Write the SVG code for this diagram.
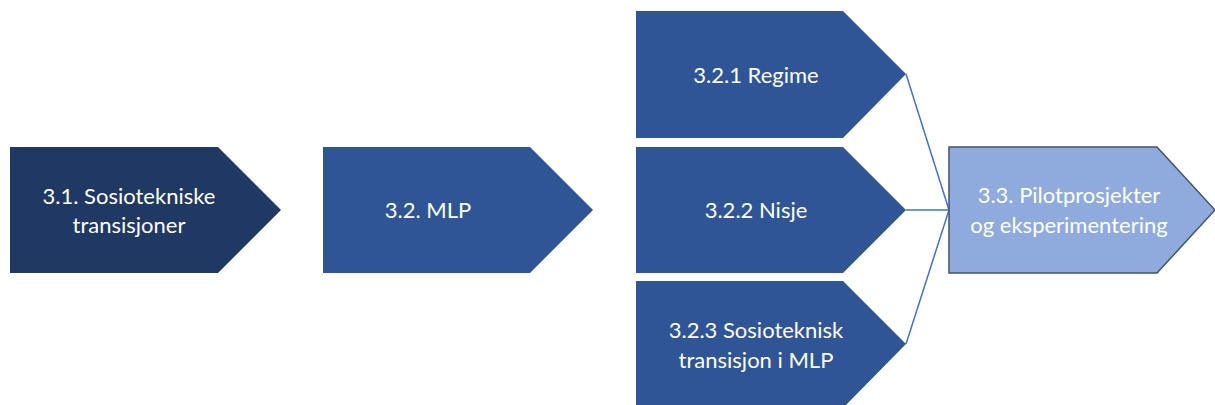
<svg xmlns="http://www.w3.org/2000/svg" width="1215" height="405" viewBox="0 0 1215 405">
<style>
.t{font-family:Lato,"Liberation Sans",sans-serif;font-size:22px;fill:#ffffff;text-anchor:middle}
.dk{fill:#203864}
.md{fill:#2F5597}
.lt{fill:#8FAADC;stroke:#44546A;stroke-width:1.5}
.c{stroke:#4472C4;stroke-width:1.5;fill:none}
</style>
<rect width="1215" height="405" fill="#ffffff"/>
<g id="connectors">
<line class="c" x1="906" y1="74" x2="949" y2="210"/>
<line class="c" x1="906" y1="210" x2="949" y2="210"/>
<line class="c" x1="906" y1="344" x2="949" y2="210"/>
</g>
<g id="n31">
<polygon class="dk" points="10,147 218,147 281,210 218,273 10,273"/>
<text class="t" x="129" y="204">3.1. Sosiotekniske</text>
<text class="t" x="129" y="233">transisjoner</text>
</g>
<g id="n32">
<polygon class="md" points="323,147 530,147 593,210 530,273 323,273"/>
<text class="t" x="428" y="218">3.2. MLP</text>
</g>
<g id="n321">
<polygon class="md" points="636,11 843,11 906,74 843,138 636,138"/>
<text class="t" x="756" y="83">3.2.1 Regime</text>
</g>
<g id="n322">
<polygon class="md" points="636,147 843,147 906,210 843,273 636,273"/>
<text class="t" x="756" y="218">3.2.2 Nisje</text>
</g>
<g id="n323">
<polygon class="md" points="636,281 843,281 906,344 843,408 636,408"/>
<text class="t" x="756" y="338">3.2.3 Sosioteknisk</text>
<text class="t" x="756" y="368">transisjon i MLP</text>
</g>
<g id="n33">
<polygon class="lt" points="949,147 1157,147 1215,210 1157,273 949,273"/>
<text class="t" x="1069" y="203">3.3. Pilotprosjekter</text>
<text class="t" x="1069" y="233">og eksperimentering</text>
</g>
</svg>
